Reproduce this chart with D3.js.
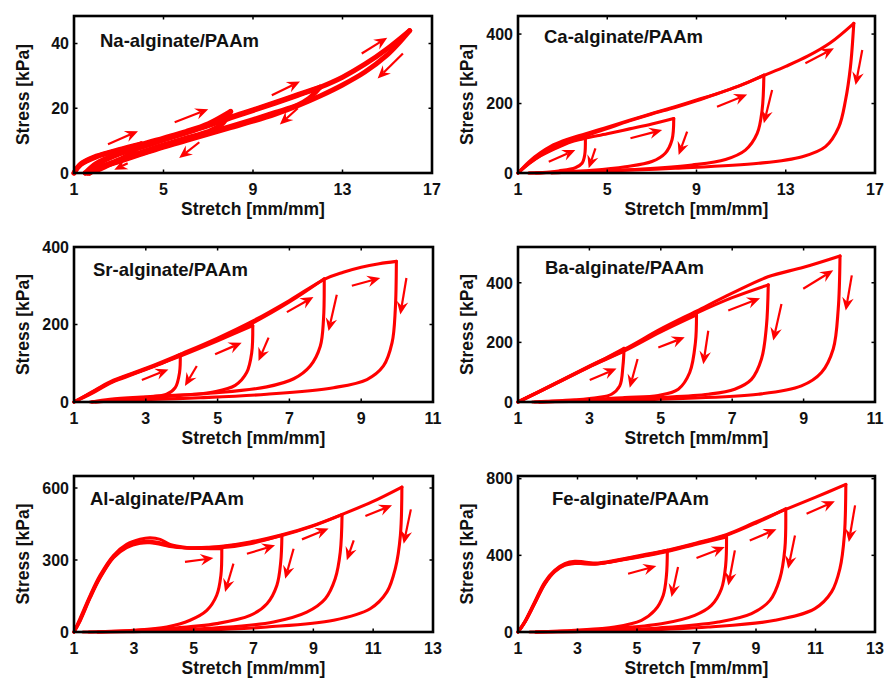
<!DOCTYPE html>
<html><head><meta charset="utf-8">
<script src="https://cdn.jsdelivr.net/npm/d3@7"></script>
<style>
body{margin:0;background:#fff}
text{font-family:"Liberation Sans",Arial,Helvetica,sans-serif;font-weight:bold;fill:#111}
</style>
</head><body>
<svg id="chart" width="884" height="678"></svg>
<script>
// ---------------- DATA ----------------
const titles = ["Na-alginate/PAAm","Ca-alginate/PAAm","Sr-alginate/PAAm","Ba-alginate/PAAm","Al-alginate/PAAm","Fe-alginate/PAAm"];
const xLabel = "Stretch [mm/mm]";
const yLabel = "Stress [kPa]";
const xTicks = [[1,5,9,13,17],[1,5,9,13,17],[1,3,5,7,9,11],[1,3,5,7,9,11],[1,3,5,7,9,11,13],[1,3,5,7,9,11,13]];
const yTicks = [[0,20,40],[0,200,400],[0,200,400],[0,200,400],[0,300,600],[0,400,800]];
const yMax = [48.5,452,400,520,650,814];

// loading / unloading branches, [stretch, stress kPa]
const naLoad = [
 [[1,0],[1.3,2.8],[2,5.2],[3,7.2],[4,9]],
 [[1,0],[1.3,2.6],[2,5],[3,7],[4,8.8],[5,10.8],[6,12.8],[7,15.2],[8,19]],
 [[1.5,0],[2,3],[3,6],[4,8],[5,10.3],[6,12.5],[7,14.8],[8,17.3],[9,19.5],[10,21.8],[11,24.2],[12,26.5]],
 [[1.6,0],[2,2.5],[3,5.8],[4,8],[5,10.2],[6,12.4],[7,14.6],[8,17],[9,19.3],[10,21.6],[11,24],[12,26.5],[13,29.6],[14,33.6],[15,38.4],[16,44]]
];
const naUnload = [
 [[4,9],[3.6,6.3],[3,4],[2.5,2.3],[2,0.8],[1.5,0]],
 [[8,19],[7.6,15],[7,12.8],[6,10.8],[5,8.7],[4,6.4],[3,4],[2,1.4],[1.6,0]],
 [[12,26.5],[11.5,23],[11,21],[10,18.7],[9,16.5],[8,14.4],[7,12.4],[6,10.3],[5,8.2],[4,6],[3,3.7],[2,1.2],[1.7,0]],
 [[16,44],[15.5,40],[15,36.5],[14,31.2],[13,27.2],[12,23.8],[11,20.8],[10,18.2],[9,16],[8,14],[7,12],[6,10],[5,8],[4,5.8],[3,3.5],[2,1.2],[1.7,0]]
];
const caLoad = [
 [[1,0],[1.5,28],[2,50],[2.5,67],[3,82],[3.5,94],[4.02,100]],
 [[1,0],[1.5,27],[2,49],[3,80],[3.5,92],[4,100],[5,113],[6,127],[7,141],[7.98,157]],
 [[1,0],[1.5,30],[2,55],[3,86],[4,106],[5,128],[6,150],[7,170],[8,188],[9,208],[10,230],[11,253],[12.02,282]],
 [[1,0],[1.5,33],[2,58],[2.5,78],[3,92],[3.5,103],[4,112],[5,132],[6,152],[7,171],[8,190],[9,210],[10,230],[11,253],[12,280],[13,307],[14,337],[15,375],[16.05,431]]
];
const caUnload = [
 [[4.02,100],[3.99,52],[3.87,28],[3.57,15],[2.82,6],[2.1,1],[1.5,0]],
 [[7.98,157],[7.9,95],[7.6,57],[7.0,33],[5.81,18],[4.32,8],[2.52,2],[1.8,0]],
 [[12.02,282],[11.94,181],[11.72,114],[11.19,66],[10.3,39],[8.8,23],[6.56,11.5],[3.6,4],[2.5,0]],
 [[16.05,431],[15.9,306],[15.68,210],[15.38,133],[14.78,76],[13.74,47],[11.79,28],[8.05,13.5],[4.32,4],[1.48,0]]
];
const srLoad = [
 [[1,0],[1.5,22],[2,48],[2.5,66],[3,84],[3.5,102],[3.96,123]],
 [[1,0],[1.5,24],[2,50],[3,85],[4,120],[5,158],[5.98,197]],
 [[1,0],[1.5,25],[2,50],[3,85],[4,122],[5,162],[6,205],[7,258],[7.97,318]],
 [[1,0],[1.5,26],[2,52],[3,87],[4,125],[5,165],[6,210],[7,262],[8,318],[8.5,335],[9,348],[9.5,357],[9.98,363]]
];
const srUnload = [
 [[3.96,123],[3.94,76],[3.82,37],[3.58,20],[3.21,14],[2.65,9],[2.2,4],[1.5,0]],
 [[5.98,197],[5.95,127],[5.81,76],[5.49,43],[4.88,26],[3.96,17],[2.65,9],[1.6,0]],
 [[7.97,318],[7.95,213],[7.86,144],[7.58,93],[7.12,60],[6.37,39],[4.98,24],[3.12,14],[2.0,7],[1.5,0]],
 [[9.98,363],[9.95,239],[9.86,153],[9.62,93],[9.16,58],[8.23,37],[6.37,20],[4.51,11],[2.65,5],[1.45,0]]
];
const baLoad = [
 [[1,0],[1.5,30],[2,60],[2.5,90],[3,120],[3.5,150],[3.97,180]],
 [[1,0],[2,58],[3,118],[4,172],[5,235],[6,292]],
 [[1,0],[2,58],[3,118],[4,175],[5,240],[6,298],[7,350],[8.01,393]],
 [[1,0],[2,60],[3,120],[4,178],[5,245],[6,305],[7,365],[8,420],[9,452],[10.02,490]]
];
const baUnload = [
 [[3.97,180],[3.94,121],[3.85,54],[3.62,26],[3.24,15],[2.59,7],[1.8,2],[1.4,0]],
 [[6.0,292],[5.97,200],[5.81,99],[5.49,43],[4.93,22],[3.99,15],[2.96,7],[1.6,0]],
 [[8.01,393],[7.96,256],[7.82,144],[7.54,76],[7.07,43],[6.33,26],[4.93,15],[3.06,6],[1.6,0]],
 [[10.02,490],[9.97,312],[9.83,178],[9.5,99],[8.94,54],[7.73,26],[5.39,11],[3.06,3],[1.47,0]]
];
const alLoad = [
 [[1,0],[1.2,56],[1.54,153],[1.87,236],[2.32,319],[2.76,365],[3.21,386],[3.54,392],[3.88,386],[4.21,365],[4.77,352],[5.3,348],[5.94,347]],
 [[1,0],[1.2,50],[1.54,148],[1.87,230],[2.32,315],[2.76,358],[3.21,376],[3.54,378],[3.88,372],[4.21,360],[4.77,350],[5.5,350],[6,352],[6.89,368],[7.95,403]],
 [[1,0],[1.2,48],[1.54,145],[1.87,228],[2.32,312],[2.76,355],[3.21,372],[3.54,374],[3.88,368],[4.21,358],[4.77,350],[5.5,352],[6,356],[6.89,372],[7.95,402],[8.95,440],[9.96,489]],
 [[1,0],[1.2,45],[1.54,142],[1.87,225],[2.32,310],[2.76,352],[3.21,370],[3.54,372],[3.88,366],[4.21,356],[4.77,350],[5.5,353],[6,358],[6.89,375],[7.95,405],[8.95,442],[9.96,490],[10.96,542],[11.96,604]]
];
const alUnload = [
 [[5.94,347],[5.91,236],[5.77,153],[5.44,90],[4.88,49],[4.1,21],[2.99,7],[1.87,1],[1.3,0]],
 [[7.95,403],[7.91,292],[7.78,194],[7.45,118],[6.89,69],[5.77,35],[4.1,14],[2.43,3],[1.5,0]],
 [[9.96,489],[9.9,333],[9.73,222],[9.4,139],[8.78,83],[7.67,42],[5.77,17],[3.54,4],[1.8,0]],
 [[11.96,604],[11.91,403],[11.74,264],[11.46,167],[10.9,97],[9.68,49],[7.45,21],[5.22,7],[2.99,1.4],[1.8,0]]
];
const feLoad = [
 [[1,0],[1.22,52],[1.56,157],[1.9,261],[2.23,322],[2.57,357],[2.91,369],[3.24,365],[3.69,360],[4.59,383],[5.3,405],[6.02,426]],
 [[1,0],[1.22,50],[1.56,152],[1.9,255],[2.23,318],[2.57,352],[2.91,362],[3.24,358],[3.69,356],[4.59,378],[5.3,398],[6.02,420],[7,458],[8.01,496]],
 [[1,0],[1.22,49],[1.56,150],[1.9,252],[2.23,316],[2.57,350],[2.91,360],[3.24,357],[3.69,356],[4.59,380],[5.3,400],[6.02,424],[7,462],[8.01,505],[9.02,570],[10,643]],
 [[1,0],[1.22,48],[1.56,148],[1.9,250],[2.23,314],[2.57,348],[2.91,358],[3.24,356],[3.69,356],[4.59,381],[5.3,402],[6.02,427],[7,465],[8,508],[9,574],[10,640],[11.01,704],[12.02,770]]
];
const feUnload = [
 [[6.02,426],[5.99,296],[5.88,191],[5.6,113],[5.15,61],[4.25,26],[2.91,9],[1.6,0]],
 [[8.01,496],[7.98,348],[7.84,226],[7.5,139],[6.94,87],[5.82,43],[4.03,17],[2.5,4],[1.6,0]],
 [[10,643],[9.97,435],[9.8,278],[9.47,165],[8.85,96],[7.73,52],[5.71,21],[3.47,5],[1.6,0]],
 [[12.02,770],[11.97,504],[11.82,330],[11.54,209],[10.98,122],[9.64,61],[7.39,26],[5.15,9],[2.91,2],[1.4,0]]
];

// direction arrows: [x1, y1, x2, y2] in data units (tail -> head)
const naArrows = [[2.52,8.9,3.86,12.9],[5.5,15.7,7.0,19.7],[9.84,24,11.1,28.3],[13.86,36.9,15.0,41.8],
 [15.7,36.9,14.57,29.2],[11.0,20,10.2,15],[6.6,9.5,5.7,4.6],[3.4,3,2.8,1]];
const caArrows = [[2.38,32.5,3.57,66],[6.04,100,7.46,124],[9.92,191,11.27,226],[13.88,316,15.16,359],
 [4.47,71,4.17,13.5],[8.58,119,8.2,52],[12.39,239,12.02,143],[16.43,354,16.13,253]];
const srArrows = [[2.89,57,3.63,84],[4.93,123,5.67,153],[6.93,232,7.67,271],[8.74,300,9.53,320],
 [4.42,93,4.09,41],[6.42,166,6.14,106],[8.32,277,8.09,183],[10.26,320,10.09,226]];
const baArrows = [[3.01,74,3.76,112],[4.93,183,5.67,217],[6.89,307,7.78,348],[8.99,380,9.83,442],
 [4.35,144,4.13,48],[6.33,239,6.19,127],[8.38,329,8.15,206],[10.35,425,10.18,307]];
const alArrows = [[4.71,292,5.66,308],[6.78,326,7.72,361],[8.62,386,9.51,431],[10.74,483,11.63,528],
 [6.33,285,6.05,167],[8.34,347,8.06,222],[10.35,382,10.12,299],[12.26,511,12.02,368]];
const feArrows = [[4.7,304,5.65,344],[7.0,386,7.95,443],[8.79,478,9.69,536],[10.7,617,11.65,682],
 [6.38,339,6.16,183],[8.29,426,8.07,243],[10.31,504,10.08,330],[12.33,661,12.12,470]];

// ---------------- LAYOUT ----------------
const frames = [
 {x0:74, x1:432, y0:16,  y1:173, tx:26, ty:31, ylx:23},
 {x0:518,x1:875, y0:16,  y1:173, tx:26, ty:27, ylx:467},
 {x0:74, x1:433, y0:247, y1:402, tx:19, ty:29, ylx:23},
 {x0:518,x1:875, y0:247, y1:402, tx:27, ty:27, ylx:467},
 {x0:74, x1:433, y0:476, y1:632, tx:16, ty:29, ylx:23},
 {x0:518,x1:875, y0:476, y1:632, tx:34, ty:29, ylx:467}
];
const loads = [naLoad,caLoad,srLoad,baLoad,alLoad,feLoad];
const unloads = [naUnload,caUnload,srUnload,baUnload,alUnload,feUnload];
const arrowsAll = [naArrows,caArrows,srArrows,baArrows,alArrows,feArrows];
const lineW = [5,3.1,3.1,3.1,3.1,3.1];

const svg = d3.select("#chart");
const RED = "#ff0000";

frames.forEach((f,i) => {
  const xt = xTicks[i];
  const x = d3.scaleLinear().domain([xt[0], xt[xt.length-1]]).range([f.x0, f.x1]);
  const y = d3.scaleLinear().domain([0, yMax[i]]).range([f.y1, f.y0]);
  const g = svg.append("g");
  const line = d3.line().x(d=>x(d[0])).y(d=>y(d[1])).curve(d3.curveCatmullRom.alpha(0.5));

  const curves = g.append("g").attr("fill","none").attr("stroke",RED)
    .attr("stroke-width",lineW[i]).attr("stroke-linejoin","round").attr("stroke-linecap","round");
  loads[i].forEach(c => curves.append("path").attr("d", line(c)));
  unloads[i].forEach(c => curves.append("path").attr("d", line(c)));

  // arrows
  arrowsAll[i].forEach(a => {
    const X1=x(a[0]), Y1=y(a[1]), X2=x(a[2]), Y2=y(a[3]);
    const ang = Math.atan2(Y2-Y1, X2-X1);
    const L=13, W=5.8, N=8.5;
    const ux=Math.cos(ang), uy=Math.sin(ang), px=-uy, py=ux;
    g.append("line").attr("x1",X1).attr("y1",Y1).attr("x2",X2-ux*N).attr("y2",Y2-uy*N)
      .attr("stroke",RED).attr("stroke-width",2.2);
    const pts = [[X2,Y2],[X2-ux*L+px*W, Y2-uy*L+py*W],[X2-ux*N, Y2-uy*N],[X2-ux*L-px*W, Y2-uy*L-py*W]];
    g.append("polygon").attr("points", pts.map(p=>p.join(",")).join(" ")).attr("fill",RED);
  });

  // frame
  g.append("rect").attr("x",f.x0).attr("y",f.y0).attr("width",f.x1-f.x0).attr("height",f.y1-f.y0)
    .attr("fill","none").attr("stroke","#000").attr("stroke-width",2.6);
  const tk = 3.5;
  xt.forEach(v => {
    g.append("line").attr("x1",x(v)).attr("x2",x(v)).attr("y1",f.y1).attr("y2",f.y1-tk).attr("stroke","#000").attr("stroke-width",1.5);
    g.append("line").attr("x1",x(v)).attr("x2",x(v)).attr("y1",f.y0).attr("y2",f.y0+tk).attr("stroke","#000").attr("stroke-width",1.5);
    g.append("text").attr("x",x(v)).attr("y",f.y1+22).attr("text-anchor","middle").style("font-size","16px").text(v);
  });
  yTicks[i].forEach(v => {
    g.append("line").attr("y1",y(v)).attr("y2",y(v)).attr("x1",f.x0).attr("x2",f.x0+tk).attr("stroke","#000").attr("stroke-width",1.5);
    g.append("line").attr("y1",y(v)).attr("y2",y(v)).attr("x1",f.x1).attr("x2",f.x1-tk).attr("stroke","#000").attr("stroke-width",1.5);
    g.append("text").attr("x",f.x0-5).attr("y",y(v)).attr("dy","0.36em").attr("text-anchor","end").style("font-size","16px").text(v);
  });
  g.append("text").attr("x",(f.x0+f.x1)/2).attr("y",f.y1+42).attr("text-anchor","middle").style("font-size","17.5px").text(xLabel);
  g.append("text").attr("transform",`translate(${f.ylx},${(f.y0+f.y1)/2}) rotate(-90)`).attr("dy","0.36em")
    .attr("text-anchor","middle").style("font-size","17.5px").text(yLabel);
  g.append("text").attr("x",f.x0+f.tx).attr("y",f.y0+f.ty).style("font-size","18.5px").text(titles[i]);
});
</script>
</body></html>
